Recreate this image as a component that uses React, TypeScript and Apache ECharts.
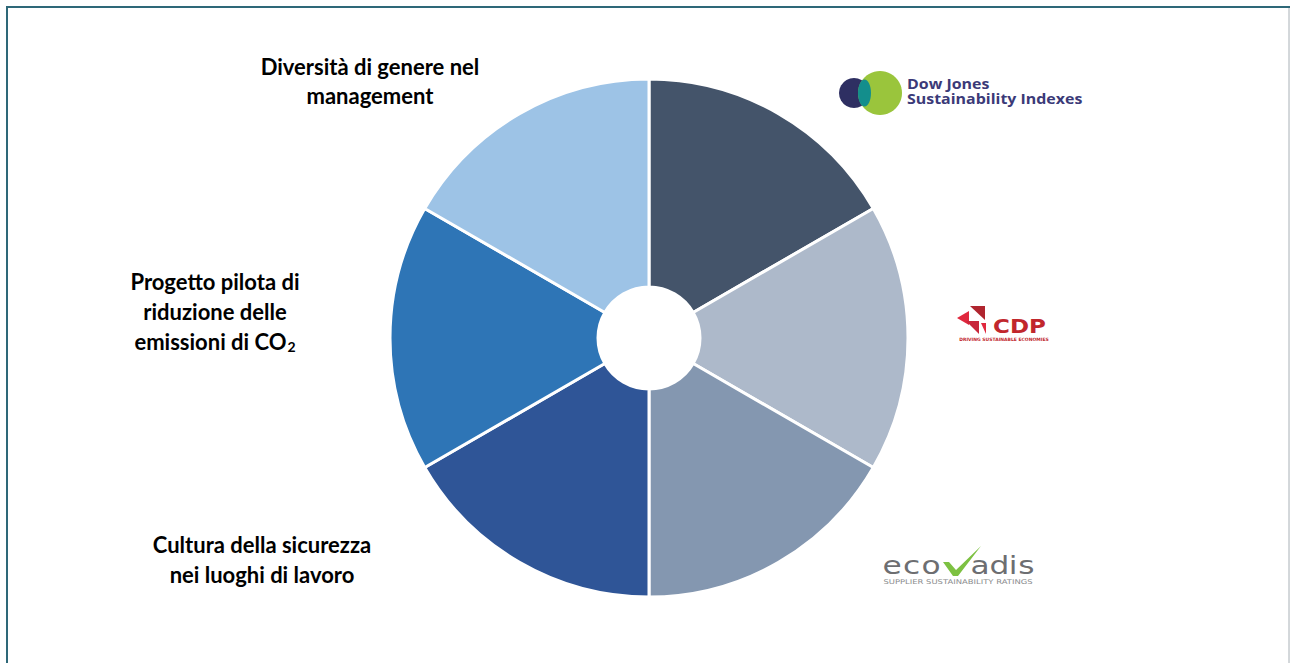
import React, { useEffect, useRef } from "react";
import * as echarts from "echarts";

const categories = [
  "Dow Jones Sustainability Indexes",
  "CDP",
  "EcoVadis",
  "Cultura della sicurezza nei luoghi di lavoro",
  "Progetto pilota di riduzione delle emissioni di CO2",
  "Diversità di genere nel management",
];
const values = [1, 1, 1, 1, 1, 1];
const colors = ["#44546A", "#ADB9CA", "#8497B0", "#2F5597", "#2E75B6", "#9DC3E6"];

const labelDiv = ["Diversità di genere nel", "management"];
const labelCO2 = ["Progetto pilota di", "riduzione delle", "emissioni di CO{sub|2}"];
const labelSic = ["Cultura della sicurezza", "nei luoghi di lavoro"];
const djLines = ["Dow Jones", "Sustainability Indexes"];

const FONT = "Lato, 'Open Sans', sans-serif";

function textLines(lines: string[], cx: number, y0: number, lh: number) {
  return lines.map((t, i) => ({
    type: "text",
    x: cx,
    y: y0 + i * lh,
    style: {
      text: t,
      fill: "#000",
      font: `bold 22px ${FONT}`,
      textAlign: "center",
      textVerticalAlign: "middle",
      rich: {
        sub: { fontSize: 14, fontWeight: "bold", fontFamily: FONT, fill: "#000", padding: [10, 0, 0, 1] },
      },
    },
  }));
}

const ecoLetters: [string, number][] = [
  ["e", 892],
  ["c", 911.5],
  ["o", 931],
  ["a", 980],
  ["d", 999.5],
  ["i", 1013],
  ["s", 1026.5],
];

export default function App() {
  const ref = useRef<HTMLDivElement>(null);
  useEffect(() => {
    const chart = echarts.init(ref.current!, undefined, { renderer: "svg" });
    const graphics: any[] = [
      // frame
      { type: "line", shape: { x1: 6, y1: 7, x2: 1290, y2: 7 }, style: { stroke: "#2E6878", lineWidth: 2 } },
      { type: "line", shape: { x1: 7, y1: 6, x2: 7, y2: 663 }, style: { stroke: "#2E6878", lineWidth: 2 } },
      { type: "line", shape: { x1: 1289, y1: 8, x2: 1289, y2: 663 }, style: { stroke: "#A8B0B6", lineWidth: 1 } },
      ...textLines(labelDiv, 370, 66, 29),
      ...textLines(labelCO2, 215, 281, 30),
      ...textLines(labelSic, 262, 544, 30),
      // Dow Jones logo
      { type: "circle", shape: { cx: 854, cy: 93, r: 15 }, style: { fill: "#2E2F62" } },
      { type: "circle", shape: { cx: 880, cy: 93, r: 22 }, style: { fill: "#9AC53C" } },
      { type: "ellipse", shape: { cx: 864.5, cy: 93, rx: 6.5, ry: 13.5 }, style: { fill: "#138E8C" } },
      ...djLines.map((t, i) => ({
        type: "text",
        x: 907,
        y: 83 + i * 15,
        scaleX: 1.1,
        style: {
          text: t,
          fill: "#3B3A78",
          font: `bold 14.5px 'Open Sans', sans-serif`,
          textAlign: "left",
          textVerticalAlign: "middle",
        },
      })),
      // CDP logo
      { type: "polygon", shape: { points: [[970, 306], [985, 306], [985, 320]] }, style: { fill: "#B0252F" } },
      { type: "polygon", shape: { points: [[957, 318], [969, 311], [969, 325]] }, style: { fill: "#E0283E" } },
      { type: "polygon", shape: { points: [[966, 321], [979, 321], [979, 334]] }, style: { fill: "#C8263A" } },
      { type: "polygon", shape: { points: [[981, 323], [986, 323], [986, 334]] }, style: { fill: "#E0283E" } },
      {
        type: "text",
        x: 993,
        y: 326,
        scaleX: 1.15,
        style: { text: "CDP", fill: "#C1272D", font: `bold 20px 'DejaVu Sans', sans-serif`, textAlign: "left", textVerticalAlign: "middle" },
      },
      {
        type: "text",
        x: 1004,
        y: 339,
        style: { text: "DRIVING SUSTAINABLE ECONOMIES", fill: "#C1272D", font: `bold 4.5px 'DejaVu Sans', sans-serif`, textAlign: "center", textVerticalAlign: "middle" },
      },
      // EcoVadis logo
      ...ecoLetters.map(([ch, cx]) => ({
        type: "text",
        x: cx,
        y: 566,
        scaleX: 1.25,
        style: { text: ch, fill: "#6D6E71", font: `25px 'DejaVu Sans', sans-serif`, textAlign: "center", textVerticalAlign: "middle" },
      })),
      { type: "polygon", shape: { points: [[943, 562], [949, 562], [956, 570], [981, 546], [958, 576], [953, 576]] }, style: { fill: "#7DC142" } },
      {
        type: "text",
        x: 958,
        y: 582,
        scaleX: 1.3,
        style: { text: "SUPPLIER SUSTAINABILITY RATINGS", fill: "#8A8B8D", font: `6.5px 'DejaVu Sans', sans-serif`, textAlign: "center", textVerticalAlign: "middle" },
      },
    ];
    chart.setOption({
      animation: false,
      backgroundColor: "#fff",
      color: colors,
      series: [
        {
          type: "pie",
          center: [649, 338],
          radius: [51, 259],
          startAngle: 90,
          clockwise: true,
          label: { show: false },
          labelLine: { show: false },
          itemStyle: { borderColor: "#fff", borderWidth: 3 },
          data: categories.map((n, i) => ({ name: n, value: values[i] })),
        },
      ],
      graphic: graphics,
    });
    return () => chart.dispose();
  }, []);
  return <div ref={ref} style={{ position: "fixed", left: 0, top: 0, width: 1290, height: 663 }} />;
}
